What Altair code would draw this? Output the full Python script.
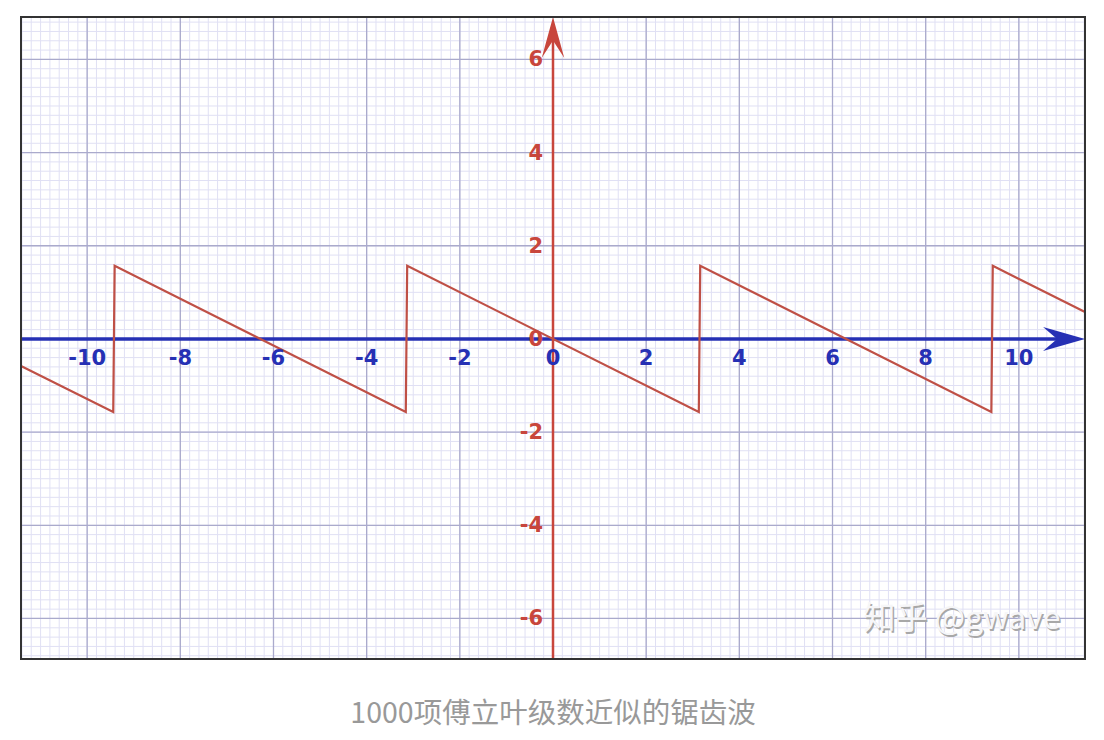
import altair as alt
import pandas as pd
import numpy as np

# ---- data ----
x_range = [-11.42, 11.42]
y_range = [-6.87, 6.91]

saw_x = [-11.42, -9.44, -9.41, -3.16, -3.13, 3.13, 3.16, 9.41, 9.44, 11.42]
saw_y = [-0.58, -1.57, 1.57, -1.57, 1.57, -1.57, 1.57, -1.57, 1.57, 0.58]

x_ticks = [-10, -8, -6, -4, -2, 0, 2, 4, 6, 8, 10]
x_tick_labels = ["-10", "-8", "-6", "-4", "-2", "0", "2", "4", "6", "8", "10"]
y_ticks = [-6, -4, -2, 0, 2, 4, 6]
y_tick_labels = ["-6", "-4", "-2", "0", "2", "4", "6"]

minor_x = [round(v, 2) for v in np.arange(-11.4, 11.41, 0.2)]
minor_y = [round(v, 2) for v in np.arange(-6.8, 6.81, 0.2)]
major_x = [-10, -8, -6, -4, -2, 2, 4, 6, 8, 10]
major_y = [-6, -4, -2, 2, 4, 6]

x_axis_span = [-11.42, 10.9]
y_axis_span = [-6.87, 6.6]
x_arrow = [10.97]
y_arrow = [6.47]

caption = "1000项傅立叶级数近似的锯齿波"
watermark = "知乎 @gwave"

W, H = 1064, 642
BLUE = "#2630b4"
RED = "#c8463c"
SAW = "#bf5046"

xs = alt.Scale(domain=x_range, nice=False, zero=False)
ys = alt.Scale(domain=y_range, nice=False, zero=False)

def X(f="x"):
    return alt.X(f"{f}:Q", scale=xs, axis=None)

def Y(f="y"):
    return alt.Y(f"{f}:Q", scale=ys, axis=None)

v_minor = alt.Chart(pd.DataFrame({"x": minor_x})).mark_rule(
    color="#e0e0f4", strokeWidth=1
).encode(x=X(), y=alt.value(0), y2=alt.value(H))
h_minor = alt.Chart(pd.DataFrame({"y": minor_y})).mark_rule(
    color="#e0e0f4", strokeWidth=1
).encode(y=Y(), x=alt.value(0), x2=alt.value(W))
v_major = alt.Chart(pd.DataFrame({"x": major_x})).mark_rule(
    color="#aaaacc", strokeWidth=1.3
).encode(x=X(), y=alt.value(0), y2=alt.value(H))
h_major = alt.Chart(pd.DataFrame({"y": major_y})).mark_rule(
    color="#aaaacc", strokeWidth=1.3
).encode(y=Y(), x=alt.value(0), x2=alt.value(W))

x_axis = alt.Chart(pd.DataFrame({"x": [x_axis_span[0]], "x2": [x_axis_span[1]], "y": [0]})).mark_rule(
    color=BLUE, strokeWidth=3.5
).encode(x=X(), x2="x2:Q", y=Y())
y_axis = alt.Chart(pd.DataFrame({"x": [0], "y": [y_axis_span[0]], "y2": [y_axis_span[1]]})).mark_rule(
    color=RED, strokeWidth=2.5
).encode(x=X(), y=Y(), y2="y2:Q")

saw_df = pd.DataFrame({"i": list(range(len(saw_x))), "x": saw_x, "y": saw_y})
saw = alt.Chart(saw_df).mark_line(color=SAW, strokeWidth=2.2).encode(
    x=X(), y=Y(), order="i:Q"
)

x_arrow_mark = alt.Chart(pd.DataFrame({"x": x_arrow, "y": [0]})).mark_point(
    shape="M 1 0 L -1 -0.57 L -0.33 0 L -1 0.57 Z", filled=True, size=1764,
    color=BLUE, opacity=1
).encode(x=X(), y=Y())
y_arrow_mark = alt.Chart(pd.DataFrame({"x": [0], "y": y_arrow})).mark_point(
    shape="M 0 -1 L 0.55 1 L 0 0.15 L -0.55 1 Z", filled=True, size=1681,
    color=RED, opacity=1
).encode(x=X(), y=Y())

x_labels = alt.Chart(pd.DataFrame({"x": x_ticks, "y": [0] * len(x_ticks), "t": x_tick_labels})).mark_text(
    font="DejaVu Sans", fontWeight="bold", fontSize=21, color=BLUE,
    baseline="middle", align="center", dy=20
).encode(x=X(), y=Y(), text="t:N")
y_labels = alt.Chart(pd.DataFrame({"x": [0] * len(y_ticks), "y": y_ticks, "t": y_tick_labels})).mark_text(
    font="DejaVu Sans", fontWeight="bold", fontSize=21, color=RED,
    baseline="middle", align="right", dx=-10, dy=1
).encode(x=X(), y=Y(), text="t:N")

wm_df = pd.DataFrame({"t": [watermark]})
wm_shadow = alt.Chart(wm_df).mark_text(
    font="Noto Sans CJK SC", fontSize=32, color="#a8a8a8", align="center",
    baseline="middle", dx=1.5, dy=1.5
).encode(text="t:N", x=alt.value(941), y=alt.value(602))
wm_main = alt.Chart(wm_df).mark_text(
    font="Noto Sans CJK SC", fontSize=32, color="#f6f6f8", align="center",
    baseline="middle"
).encode(text="t:N", x=alt.value(941), y=alt.value(602))

frame = alt.Chart(pd.DataFrame({"k": [0]})).mark_rect(
    fillOpacity=0, stroke="#333333", strokeWidth=2
).encode(x=alt.value(0), x2=alt.value(W), y=alt.value(0), y2=alt.value(H))

chart = alt.layer(
    v_minor, h_minor, v_major, h_major, x_axis, y_axis, saw,
    x_labels, y_labels, x_arrow_mark, y_arrow_mark, wm_shadow, wm_main, frame
).properties(
    width=W, height=H,
    title=alt.TitleParams(caption, orient="bottom", anchor="middle",
                          font="Noto Sans CJK SC", fontSize=28.5, fontWeight="normal",
                          color="#999999", offset=40),
    padding={"left": 13, "top": 9, "right": 10, "bottom": 80},
    autosize=alt.AutoSizeParams(type="none"),
    background="white",
).configure_view(stroke=None)

chart.save("out.html", embed_options={"renderer": "svg", "actions": False})
